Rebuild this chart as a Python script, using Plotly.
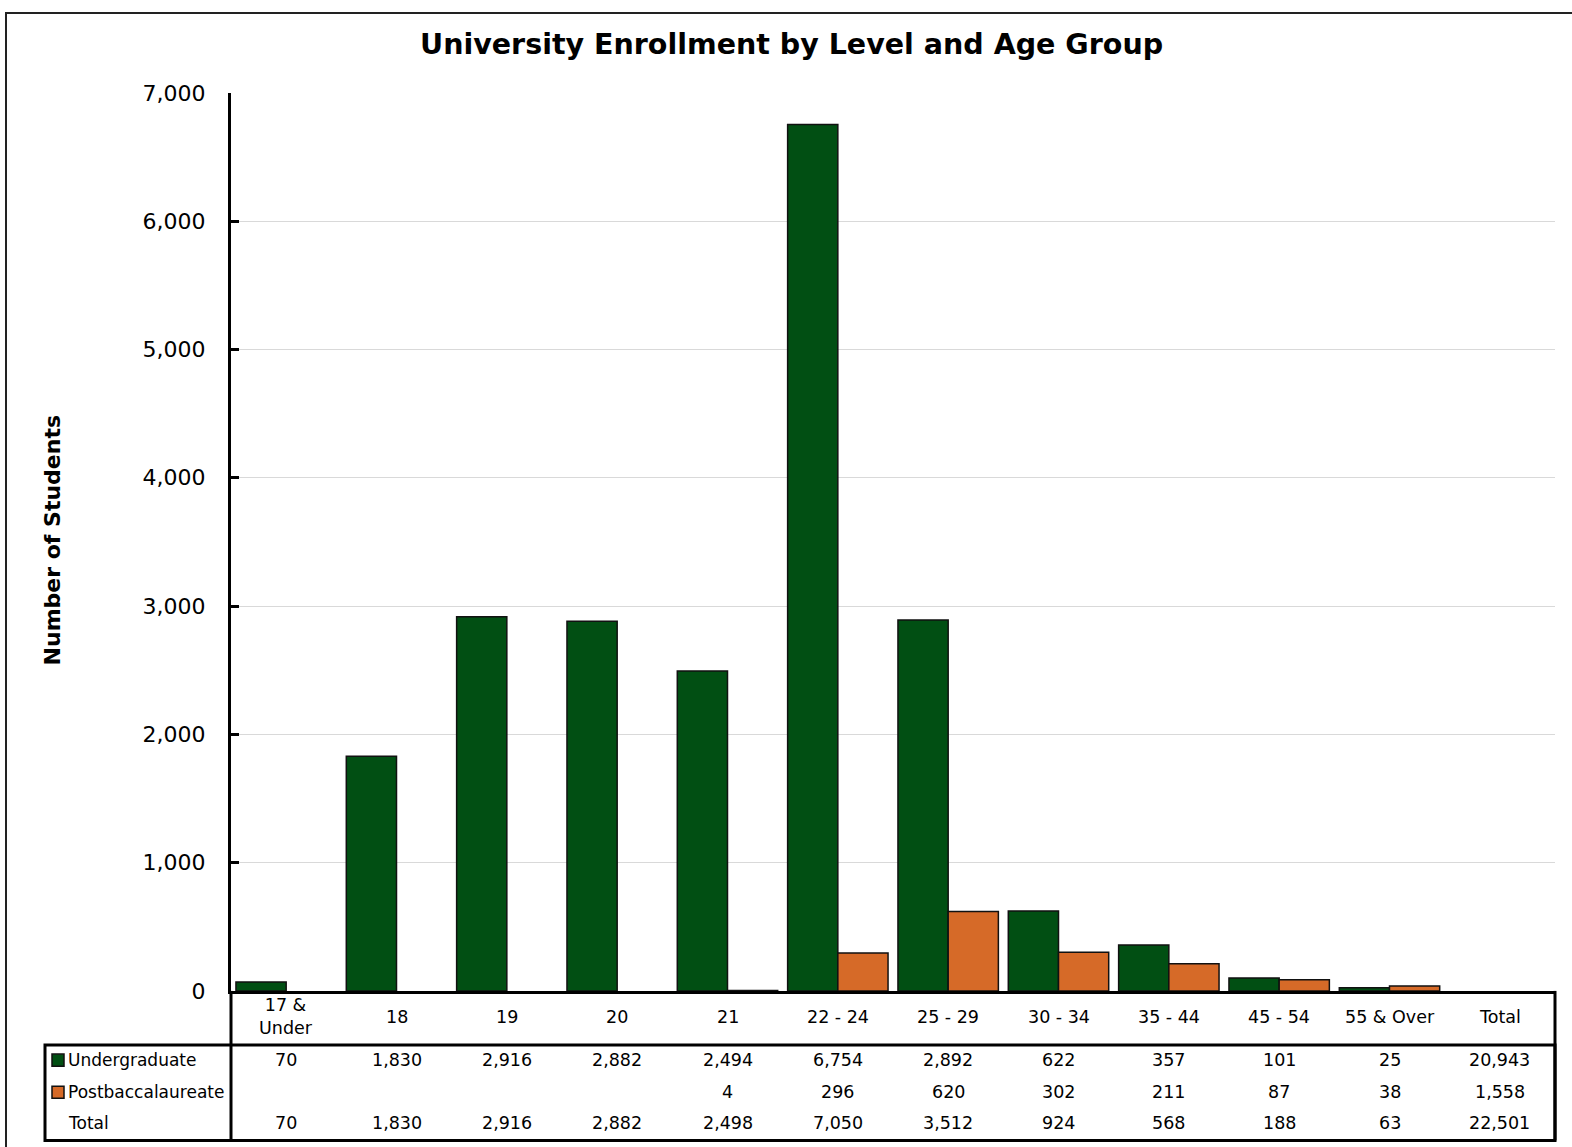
import plotly.graph_objects as go

W, H = 1572, 1147

categories = ["17 &<br>Under", "18", "19", "20", "21", "22 - 24", "25 - 29",
              "30 - 34", "35 - 44", "45 - 54", "55 & Over", "Total"]
age_groups = categories[:-1]
undergrad = [70, 1830, 2916, 2882, 2494, 6754, 2892, 622, 357, 101, 25]
postbacc = [None, None, None, None, 4, 296, 620, 302, 211, 87, 38]
y_ticks = [0, 1000, 2000, 3000, 4000, 5000, 6000, 7000]

GREEN = "#014F13"
ORANGE = "#D66A28"
FONT = "DejaVu Sans"

# vertical placement correction observed for the page capture
Y_OFF, Y_SCALE = 11.3, 0.975


def px(x):
    return x / W


def py(y):
    yf = (y - Y_OFF) / Y_SCALE
    return 1 - yf / H


fig = go.Figure()
fig.add_trace(go.Bar(name="Undergraduate", x=age_groups, y=undergrad,
                     marker=dict(color=GREEN, line=dict(color="#111111", width=1.5))))
fig.add_trace(go.Bar(name="Postbaccalaureate", x=age_groups, y=postbacc,
                     marker=dict(color=ORANGE, line=dict(color="#111111", width=1.5))))

fig.update_layout(
    width=W, height=H,
    margin=dict(l=0, r=0, t=0, b=0),
    paper_bgcolor="white", plot_bgcolor="white",
    barmode="group", bargap=0.09, bargroupgap=0,
    showlegend=False,
    font=dict(family=FONT, color="black"),
    xaxis=dict(domain=[px(231), px(1555)], type="category",
               categoryorder="array", categoryarray=categories,
               range=[-0.5, len(categories) - 0.5],
               showticklabels=False, ticks="", showgrid=False,
               showline=True, linecolor="black", linewidth=3, zeroline=False),
    yaxis=dict(domain=[py(987), py(92)], range=[0, 7000],
               tickvals=y_ticks, tickformat=",",
               tickfont=dict(size=22, family=FONT),
               ticks="inside", ticklen=8, tickwidth=3, tickcolor="black",
               ticklabelstandoff=18,
               showgrid=True, gridcolor="#D9D9D9", gridwidth=1,
               showline=True, linecolor="black", linewidth=3, zeroline=False),
)

ann = []
ann.append(dict(text="<b>University Enrollment by Level and Age Group</b>",
                x=px(792), y=py(44), xref="paper", yref="paper",
                xanchor="center", yanchor="middle", showarrow=False,
                font=dict(size=28.5, family=FONT)))
ann.append(dict(text="<b>Number of Students</b>", textangle=-90,
                x=px(52), y=py(538), xref="paper", yref="paper",
                xanchor="center", yanchor="middle", showarrow=False,
                font=dict(size=22, family=FONT)))

TABLE_FONT = dict(size=17.5, family=FONT)

# data table header (category labels), placed by category index on the x axis
for i, c in enumerate(categories):
    ann.append(dict(text=c, x=i, xref="x", y=py(1013), yref="paper",
                    xanchor="center", yanchor="middle", showarrow=False,
                    font=TABLE_FONT))

rows_y = [1056, 1088, 1119]
totals_row = [u + (p or 0) for u, p in zip(undergrad, postbacc)]
u_vals = undergrad + [sum(undergrad)]
p_vals = postbacc + [sum(p for p in postbacc if p is not None)]
t_vals = totals_row + [sum(totals_row)]
for row_vals, ry in zip([u_vals, p_vals, t_vals], rows_y):
    for i, v in enumerate(row_vals):
        if v is None:
            continue
        ann.append(dict(text=f"{v:,}", x=i, xref="x", y=py(ry), yref="paper",
                        xanchor="center", yanchor="middle", showarrow=False,
                        font=TABLE_FONT))

row_labels = ["Undergraduate", "Postbaccalaureate", "Total"]
for lab, ry in zip(row_labels, rows_y):
    ann.append(dict(text=lab, x=px(66), y=py(ry), xref="paper", yref="paper",
                    xanchor="left", yanchor="middle", showarrow=False,
                    font=dict(size=17, family=FONT)))
fig.update_layout(annotations=ann)

shapes = []
line = dict(color="black", width=3)
# outer chart frame
shapes.append(dict(type="rect", xref="paper", yref="paper",
                   x0=px(6), x1=px(1600), y0=-0.2, y1=1 - 1.0 / H,
                   line=dict(color="#222222", width=2)))
# table lines
shapes.append(dict(type="line", xref="paper", yref="paper",
                   x0=px(231), x1=px(231), y0=py(987), y1=py(1136), line=line))
shapes.append(dict(type="line", xref="paper", yref="paper",
                   x0=px(1555), x1=px(1555), y0=py(987), y1=py(1136), line=line))
shapes.append(dict(type="rect", xref="paper", yref="paper",
                   x0=px(45), x1=px(1555), y0=py(1136), y1=py(1041), line=line))
# legend keys
for color, ry in zip([GREEN, ORANGE], rows_y[:2]):
    shapes.append(dict(type="rect", xref="paper", yref="paper",
                       x0=px(52), x1=px(64), y0=py(ry + 6), y1=py(ry - 6),
                       fillcolor=color, line=dict(color="#111111", width=1.5)))
fig.update_layout(shapes=shapes)

post = ("document.body.style.margin='0px';"
        "document.body.style.overflow='hidden';"
        "var d=document.getElementById('{plot_id}');"
        "d.style.position='fixed';d.style.top='0px';d.style.left='0px';")
fig.write_html("out.html", config={"displayModeBar": False}, post_script=post)
